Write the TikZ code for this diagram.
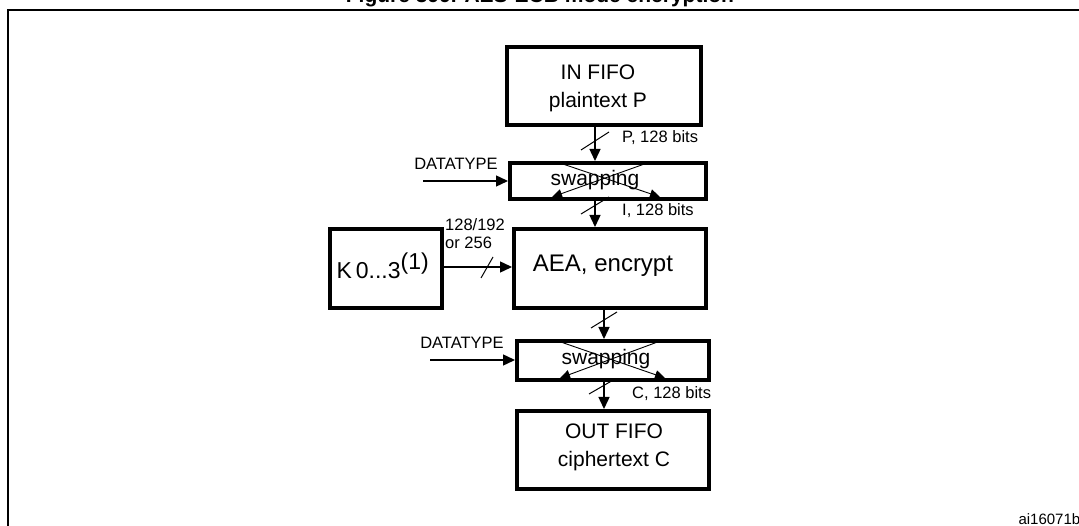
\documentclass[tikz,border=0pt]{standalone}
\usepackage{fontspec}
\setmainfont{Liberation Sans}
\usetikzlibrary{arrows.meta}
\begin{document}
\begin{tikzpicture}[x=1pt,y=-1pt,
  box/.style={draw,line width=4pt,inner sep=0pt,anchor=north west},
  arr/.style={line width=1.4pt,-{Triangle[length=12pt,width=11pt]}},
  xarr/.style={line width=0.9pt,-{Triangle[length=10pt,width=9pt]}},
  lbl/.style={font=\fontsize{16.5}{18}\selectfont,inner sep=0pt},
  big/.style={font=\fontsize{21}{25}\selectfont,align=center}]
\useasboundingbox (0,0) rectangle (1079,526);
\draw[line width=2pt] (8,526) -- (8,10) -- (1079,10);
\node[font=\bfseries\fontsize{21}{24}\selectfont,anchor=base] (title) at (540,3) {Figure 399. AES-ECB mode encryption};
% boxes
\node[box,minimum width=194pt,minimum height=78pt] (in) at (505,45) {};
\node[big] (intxt) at (598,88) {IN FIFO\\[3pt]plaintext P};
\node[box,minimum width=196pt,minimum height=36pt] (sw1) at (508,161) {};
\node[big] (sw1t) at (595,180) {swapping};
\node[box,minimum width=192pt,minimum height=79pt] (aea) at (512,227) {};
\node[font=\fontsize{24}{28}\selectfont] (aeat) at (603,266) {AEA, encrypt};
\node[box,minimum width=112pt,minimum height=79pt] (k) at (328,227) {};
\node[font=\fontsize{23}{26}\selectfont] (kt) at (383,266) {K\,0...3$^{\textrm{(1)}}$};
\node[box,minimum width=192pt,minimum height=39pt] (sw2) at (515,339) {};
\node[big] (sw2t) at (606,359) {swapping};
\node[box,minimum width=192pt,minimum height=78pt] (out) at (515,409) {};
\node[big] (outt) at (614,447) {OUT FIFO\\[3pt]ciphertext C};
% swap crosses
\coordinate (a1) at (557,162); \coordinate (a2) at (660,197);
\coordinate (b1) at (650,162); \coordinate (b2) at (552,197);
\draw[xarr] (a1) -- (a2); \draw[xarr] (b1) -- (b2);
\coordinate (c1) at (555,340); \coordinate (c2) at (665,378);
\coordinate (d1) at (663,340); \coordinate (d2) at (560,378);
\draw[xarr] (c1) -- (c2); \draw[xarr] (d1) -- (d2);
% vertical arrows
\draw[arr] (in.south -| 595,0) -- (sw1.north -| 595,0);
\draw[line width=1pt] (581,150) -- (609,132);
\node[lbl,anchor=west] (p) at (622,138) {P, 128 bits};
\draw[arr] (sw1.south -| 595,0) -- (aea.north -| 595,0);
\draw[line width=1pt] (581,214) -- (609,197);
\node[lbl,anchor=west] (i) at (622,211) {I, 128 bits};
\draw[arr] (aea.south -| 604,0) -- (sw2.north -| 604,0);
\draw[line width=1pt] (591,328) -- (617,312);
\draw[arr] (sw2.south -| 604,0) -- (out.north -| 604,0);
\draw[line width=1pt] (589,394) -- (615,379);
\node[lbl,anchor=west] (c) at (632,394) {C, 128 bits};
% datatype
\coordinate (dt1) at (423,181);
\node[lbl,anchor=south] (dtl1) at (456,170) {DATATYPE};
\draw[arr] (dt1) -- (sw1.west |- dt1);
\coordinate (dt2) at (430,360);
\node[lbl,anchor=south] (dtl2) at (462,349) {DATATYPE};
\draw[arr] (dt2) -- (sw2.west |- dt2);
% key
\draw[arr] (k.east |- 0,267) -- (aea.west |- 0,267);
\draw[line width=1pt] (481,278) -- (493,257);
\node[lbl,anchor=north west,align=left] (kl) at (445,218) {128/192\\or 256};
\node[font=\fontsize{15}{16}\selectfont,anchor=west] (id) at (1015,519) {ai16071b};
\end{tikzpicture}
\end{document}
